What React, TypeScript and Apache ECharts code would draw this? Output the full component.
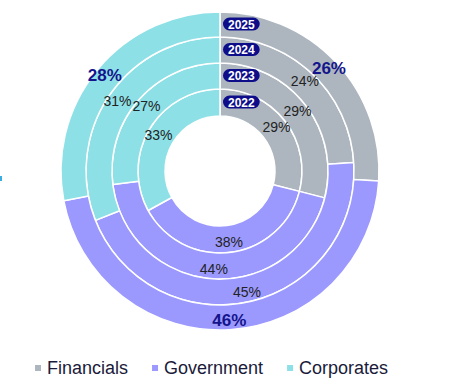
import React, { useEffect, useRef } from "react";
import * as echarts from "echarts";

const categories = ["Financials", "Government", "Corporates"];
const years = ["2022", "2023", "2024", "2025"];
const financials = [29, 29, 24, 26];
const government = [38, 44, 45, 46];
const corporates = [33, 27, 31, 28];

const colors = ["#adb6bf", "#9b99fe", "#8ce0e6"];
const CX = 220;
const CY = 171;
const radii = [55, 82, 108, 134, 159];

export default function App() {
  const ref = useRef<HTMLDivElement>(null);
  useEffect(() => {
    document.body.style.margin = "0";
    const chart = echarts.init(ref.current!, null, { renderer: "svg" });
    const series = years.map((y, i) => {
      const last = i === years.length - 1;
      return {
        type: "pie",
        name: y,
        center: [CX, CY],
        radius: [radii[i], radii[i + 1]],
        startAngle: 90,
        clockwise: true,
        silent: true,
        avoidLabelOverlap: false,
        labelLayout: { hideOverlap: false },
        itemStyle: { borderColor: "#ffffff", borderWidth: 1.5 },
        label: {
          show: true,
          position: "inside",
          formatter: "{c}%",
          fontFamily: "Liberation Sans, Arial, sans-serif",
          fontSize: last ? 17 : 14,
          fontWeight: last ? "bold" : "normal",
          color: last ? "#14148c" : "#222222",
        },
        labelLine: { show: false },
        data: categories.map((c, k) => ({
          name: c,
          value: [financials, government, corporates][k][i],
        })),
      };
    });
    const badges = years.map((y, i) => ({
      type: "text",
      left: CX + 3,
      top: CY - (radii[i] + radii[i + 1]) / 2 - 7,
      z: 100,
      style: {
        text: y,
        fill: "#ffffff",
        font: "bold 12px Liberation Sans, Arial, sans-serif",
        backgroundColor: "#0d0d8a",
        borderRadius: 7,
        padding: [1, 5, 0, 5],
      },
    }));
    chart.setOption({
      animation: false,
      color: colors,
      legend: {
        data: categories,
        left: 33,
        top: 359,
        padding: 0,
        icon: "rect",
        itemWidth: 8,
        itemHeight: 8,
        itemGap: 22,
        textStyle: {
          fontSize: 18,
          color: "#1a1a3a",
          fontFamily: "Liberation Sans, Arial, sans-serif",
        },
      },
      series,
      graphic: [
        ...badges,
        {
          type: "rect",
          shape: { x: 0, y: 176, width: 2, height: 5 },
          style: { fill: "#3aaee0" },
        },
      ],
    });
    return () => chart.dispose();
  }, []);
  return <div ref={ref} style={{ width: 450, height: 385 }} />;
}
